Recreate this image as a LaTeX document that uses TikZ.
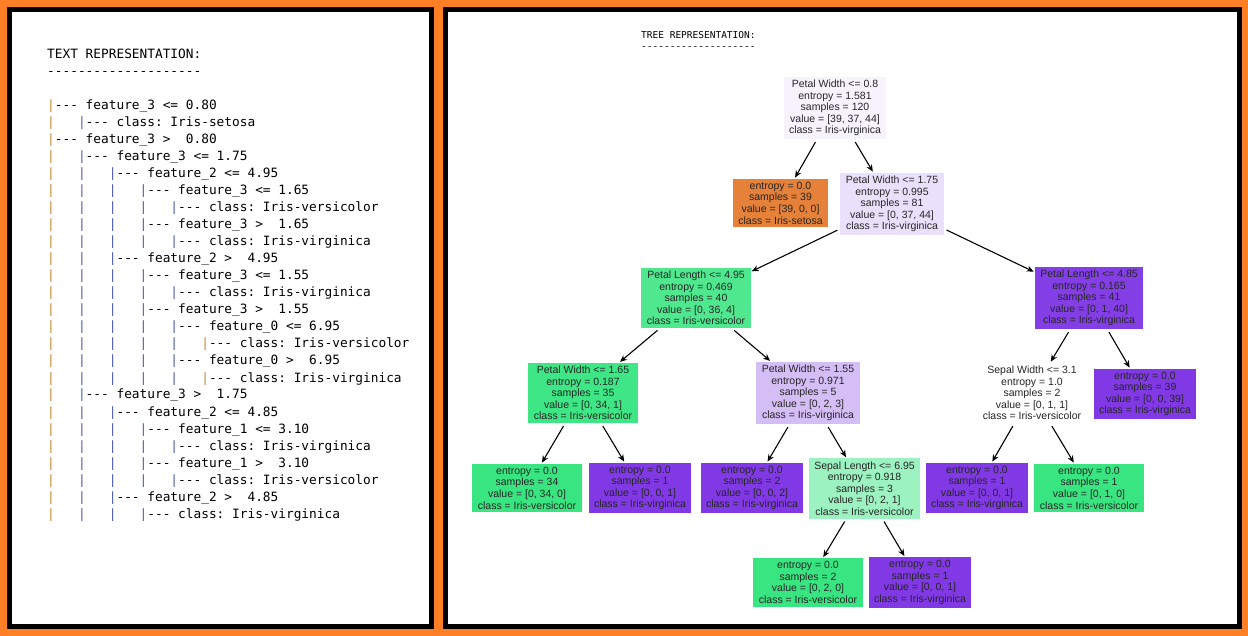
\documentclass[tikz,border=0pt]{standalone}
\usepackage{fontspec}
\setmonofont{DejaVu Sans Mono}
\setsansfont{Liberation Sans}
\usetikzlibrary{arrows.meta}

\definecolor{frameorange}{HTML}{FF7F27}
\definecolor{barorange}{HTML}{C8892C}
\definecolor{barblue}{HTML}{4D5DB0}
\definecolor{setosa}{HTML}{E58139}
\definecolor{versicolor}{HTML}{39E581}
\definecolor{virginica}{HTML}{8139E5}
\definecolor{rootfill}{HTML}{F7F3FD}
\definecolor{virlight}{HTML}{EBE0FB}
\definecolor{virmid}{HTML}{D5BDF6}
\definecolor{virdeep}{HTML}{843EE6}
\definecolor{verdeep}{HTML}{4FE88F}
\definecolor{verdeeper}{HTML}{3FE685}
\definecolor{verlight}{HTML}{9CF2C0}

\newcommand{\trbar}[1]{\ifnum#1=0 \textcolor{barorange}{|}\else\ifnum#1=5 \textcolor{barorange}{|}\else\textcolor{barblue}{|}\fi\fi}

\begin{document}
\begin{tikzpicture}[x=1pt, y=-1pt,
  codeline/.style={anchor=base west, inner sep=0pt, font=\ttfamily\fontsize{12.8}{17}\selectfont},
  treebox/.style={rectangle, align=center, inner xsep=5.5pt, inner ysep=3.2pt, text=black!85, font=\sffamily\fontsize{10.5}{11.6}\selectfont},
  arr/.style={-{Stealth[length=7pt,width=6pt]}, line width=1.1pt, shorten <=3pt, shorten >=1pt}]
  \useasboundingbox (0,0) rectangle (1248,636);
  \fill[frameorange] (0,0) rectangle (1248,636);
  \draw[line width=5pt, fill=white] (9.5,9.5) rectangle (431.5,626.5);
  \draw[line width=5pt, fill=white] (445.5,9.5) rectangle (1239.5,626.5);

  % text representation
  \node[codeline] (ttitle) at (47,59) {TEXT REPRESENTATION:};
  \node[codeline] (tdash) at (47,76) {--------------------};
  \foreach \lvl/\txt [count=\i] in {0/{feature\_3 <= 0.80}, 1/{class: Iris-setosa},
      0/{feature\_3 >~~0.80}, 1/{feature\_3 <= 1.75}, 2/{feature\_2 <= 4.95},
      3/{feature\_3 <= 1.65}, 4/{class: Iris-versicolor}, 3/{feature\_3 >~~1.65},
      4/{class: Iris-virginica}, 2/{feature\_2 >~~4.95}, 3/{feature\_3 <= 1.55},
      4/{class: Iris-virginica}, 3/{feature\_3 >~~1.55}, 4/{feature\_0 <= 6.95},
      5/{class: Iris-versicolor}, 4/{feature\_0 >~~6.95}, 5/{class: Iris-virginica},
      1/{feature\_3 >~~1.75}, 2/{feature\_2 <= 4.85}, 3/{feature\_1 <= 3.10},
      4/{class: Iris-virginica}, 3/{feature\_1 >~~3.10}, 4/{class: Iris-versicolor},
      2/{feature\_2 >~~4.85}, 3/{class: Iris-virginica}} {
    \node[codeline] (t\i) at (47,{93+17*\i}) {\foreach \c in {0,...,\lvl}{\trbar{\c}\ifnum\c<\lvl\relax~~~\fi}--- \txt};
  }

  % tree representation
  \node[codeline, font=\ttfamily\fontsize{9.5}{11}\selectfont] (rtitle) at (641,38.5) {TREE REPRESENTATION:};
  \node[codeline, font=\ttfamily\fontsize{9.5}{11}\selectfont] (rdash) at (641,49.5) {--------------------};

  \node[treebox, fill=rootfill] (pw08) at (835,108) {Petal Width <= 0.8\\entropy = 1.581\\samples = 120\\value = [39, 37, 44]\\class = Iris-virginica};
  \node[treebox, fill=setosa] (set39) at (780.5,203) {entropy = 0.0\\samples = 39\\value = [39, 0, 0]\\class = Iris-setosa};
  \node[treebox, fill=virlight] (pw175) at (892,204) {Petal Width <= 1.75\\entropy = 0.995\\samples = 81\\value = [0, 37, 44]\\class = Iris-virginica};
  \node[treebox, fill=verdeep] (pl495) at (696,298) {Petal Length <= 4.95\\entropy = 0.469\\samples = 40\\value = [0, 36, 4]\\class = Iris-versicolor};
  \node[treebox, fill=virdeep] (pl485) at (1089,298) {Petal Length <= 4.85\\entropy = 0.165\\samples = 41\\value = [0, 1, 40]\\class = Iris-virginica};
  \node[treebox, fill=verdeeper] (pw165) at (583,393) {Petal Width <= 1.65\\entropy = 0.187\\samples = 35\\value = [0, 34, 1]\\class = Iris-versicolor};
  \node[treebox, fill=virmid] (pw155) at (808,393) {Petal Width <= 1.55\\entropy = 0.971\\samples = 5\\value = [0, 2, 3]\\class = Iris-virginica};
  \node[treebox, fill=white] (sw31) at (1032,393) {Sepal Width <= 3.1\\entropy = 1.0\\samples = 2\\value = [0, 1, 1]\\class = Iris-versicolor};
  \node[treebox, fill=virginica] (vir39) at (1145,394) {entropy = 0.0\\samples = 39\\value = [0, 0, 39]\\class = Iris-virginica};
  \node[treebox, fill=versicolor] (ver34) at (527,488) {entropy = 0.0\\samples = 34\\value = [0, 34, 0]\\class = Iris-versicolor};
  \node[treebox, fill=virginica] (vir1a) at (640,488) {entropy = 0.0\\samples = 1\\value = [0, 0, 1]\\class = Iris-virginica};
  \node[treebox, fill=virginica] (vir2) at (752,488) {entropy = 0.0\\samples = 2\\value = [0, 0, 2]\\class = Iris-virginica};
  \node[treebox, fill=verlight] (sl695) at (864.5,488.5) {Sepal Length <= 6.95\\entropy = 0.918\\samples = 3\\value = [0, 2, 1]\\class = Iris-versicolor};
  \node[treebox, fill=virginica] (vir1b) at (977,488) {entropy = 0.0\\samples = 1\\value = [0, 0, 1]\\class = Iris-virginica};
  \node[treebox, fill=versicolor] (ver1) at (1089,488) {entropy = 0.0\\samples = 1\\value = [0, 1, 0]\\class = Iris-versicolor};
  \node[treebox, fill=versicolor] (ver2) at (808,582.5) {entropy = 0.0\\samples = 2\\value = [0, 2, 0]\\class = Iris-versicolor};
  \node[treebox, fill=virginica] (vir1c) at (920,582.5) {entropy = 0.0\\samples = 1\\value = [0, 0, 1]\\class = Iris-virginica};

  \draw[arr] (pw08) -- (set39);
  \draw[arr] (pw08) -- (pw175);
  \draw[arr] (pw175) -- (pl495);
  \draw[arr] (pw175) -- (pl485);
  \draw[arr] (pl495) -- (pw165);
  \draw[arr] (pl495) -- (pw155);
  \draw[arr] (pl485) -- (sw31);
  \draw[arr] (pl485) -- (vir39);
  \draw[arr] (pw165) -- (ver34);
  \draw[arr] (pw165) -- (vir1a);
  \draw[arr] (pw155) -- (vir2);
  \draw[arr] (pw155) -- (sl695);
  \draw[arr] (sw31) -- (vir1b);
  \draw[arr] (sw31) -- (ver1);
  \draw[arr] (sl695) -- (ver2);
  \draw[arr] (sl695) -- (vir1c);
\end{tikzpicture}
\end{document}
